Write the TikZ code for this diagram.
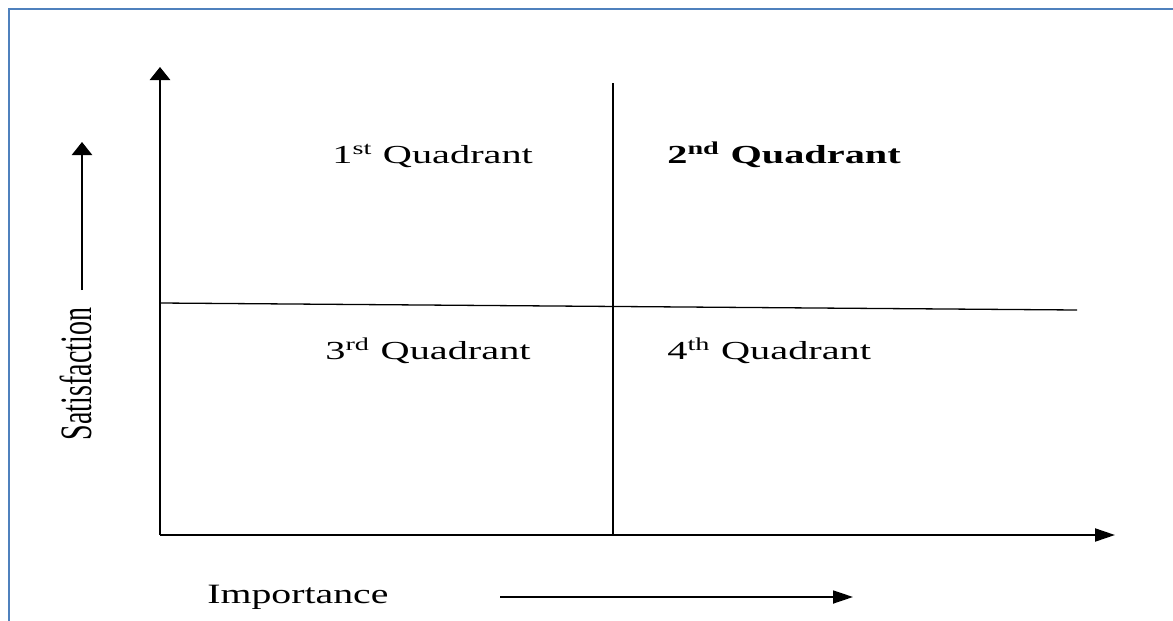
\documentclass[tikz,border=0pt]{standalone}
\usepackage{fontspec}
\setmainfont{Liberation Serif}
\usetikzlibrary{arrows.meta}
\definecolor{frameblue}{RGB}{79,129,189}
\tikzset{
  vtip/.style={-{Triangle[length=6.5pt,width=10pt]}},
  htip/.style={-{Triangle[length=10pt,width=6.5pt]}},
  qlabel/.style={anchor=base west,inner sep=0pt,font=\fontsize{13}{15}\selectfont},
}
\newcommand{\widetext}[1]{\scalebox{1.55}[1]{#1}}

\begin{document}
\begin{tikzpicture}[x=0.5pt,y=-0.5pt]
  \useasboundingbox (0,0) rectangle (1173,621);
  \draw[line width=0.9pt,frameblue] (9,621) -- (9,9) -- (1173,9);
  % axes
  \coordinate (O) at (160,535);
  \coordinate (ytop) at (160,67);
  \coordinate (xend) at (1115,535);
  \draw[line width=1.4pt,vtip] (O) -- (ytop);
  \draw[line width=1pt,htip] (O) -- (xend);
  % quadrant lines
  \coordinate (vtop) at (613,83);
  \coordinate (vbot) at (613,535);
  \coordinate (hleft) at (160,303);
  \coordinate (hright) at (1077,310);
  \draw[line width=0.9pt] (vtop) -- (vbot);
  \draw[line width=0.65pt] (hleft) -- (hright);
  % direction arrows
  \coordinate (sbot) at (82,290);
  \coordinate (stop) at (82,142);
  \coordinate (ileft) at (500,597);
  \coordinate (iright) at (853,597);
  \draw[line width=1.3pt,vtip] (sbot) -- (stop);
  \draw[line width=0.9pt,htip] (ileft) -- (iright);
  % labels
  \node[qlabel] (q1) at (332,163) {\widetext{1\textsuperscript{st} Quadrant}};
  \node[qlabel] (q2) at (667,163) {\widetext{\bfseries 2\textsuperscript{nd} Quadrant}};
  \node[qlabel] (q3) at (325,359) {\widetext{3\textsuperscript{rd} Quadrant}};
  \node[qlabel] (q4) at (667,359) {\widetext{4\textsuperscript{th} Quadrant}};
  \node[anchor=base west,inner sep=0pt,font=\fontsize{14}{16}\selectfont] (imp) at (207,603)
    {\scalebox{1.42}[1]{Importance}};
  \node[inner sep=0pt,font=\fontsize{14}{16}\selectfont] (sat) at (76,374)
    {\rotatebox{90}{\scalebox{1}[1.6]{Satisfaction}}};
\end{tikzpicture}
\end{document}
